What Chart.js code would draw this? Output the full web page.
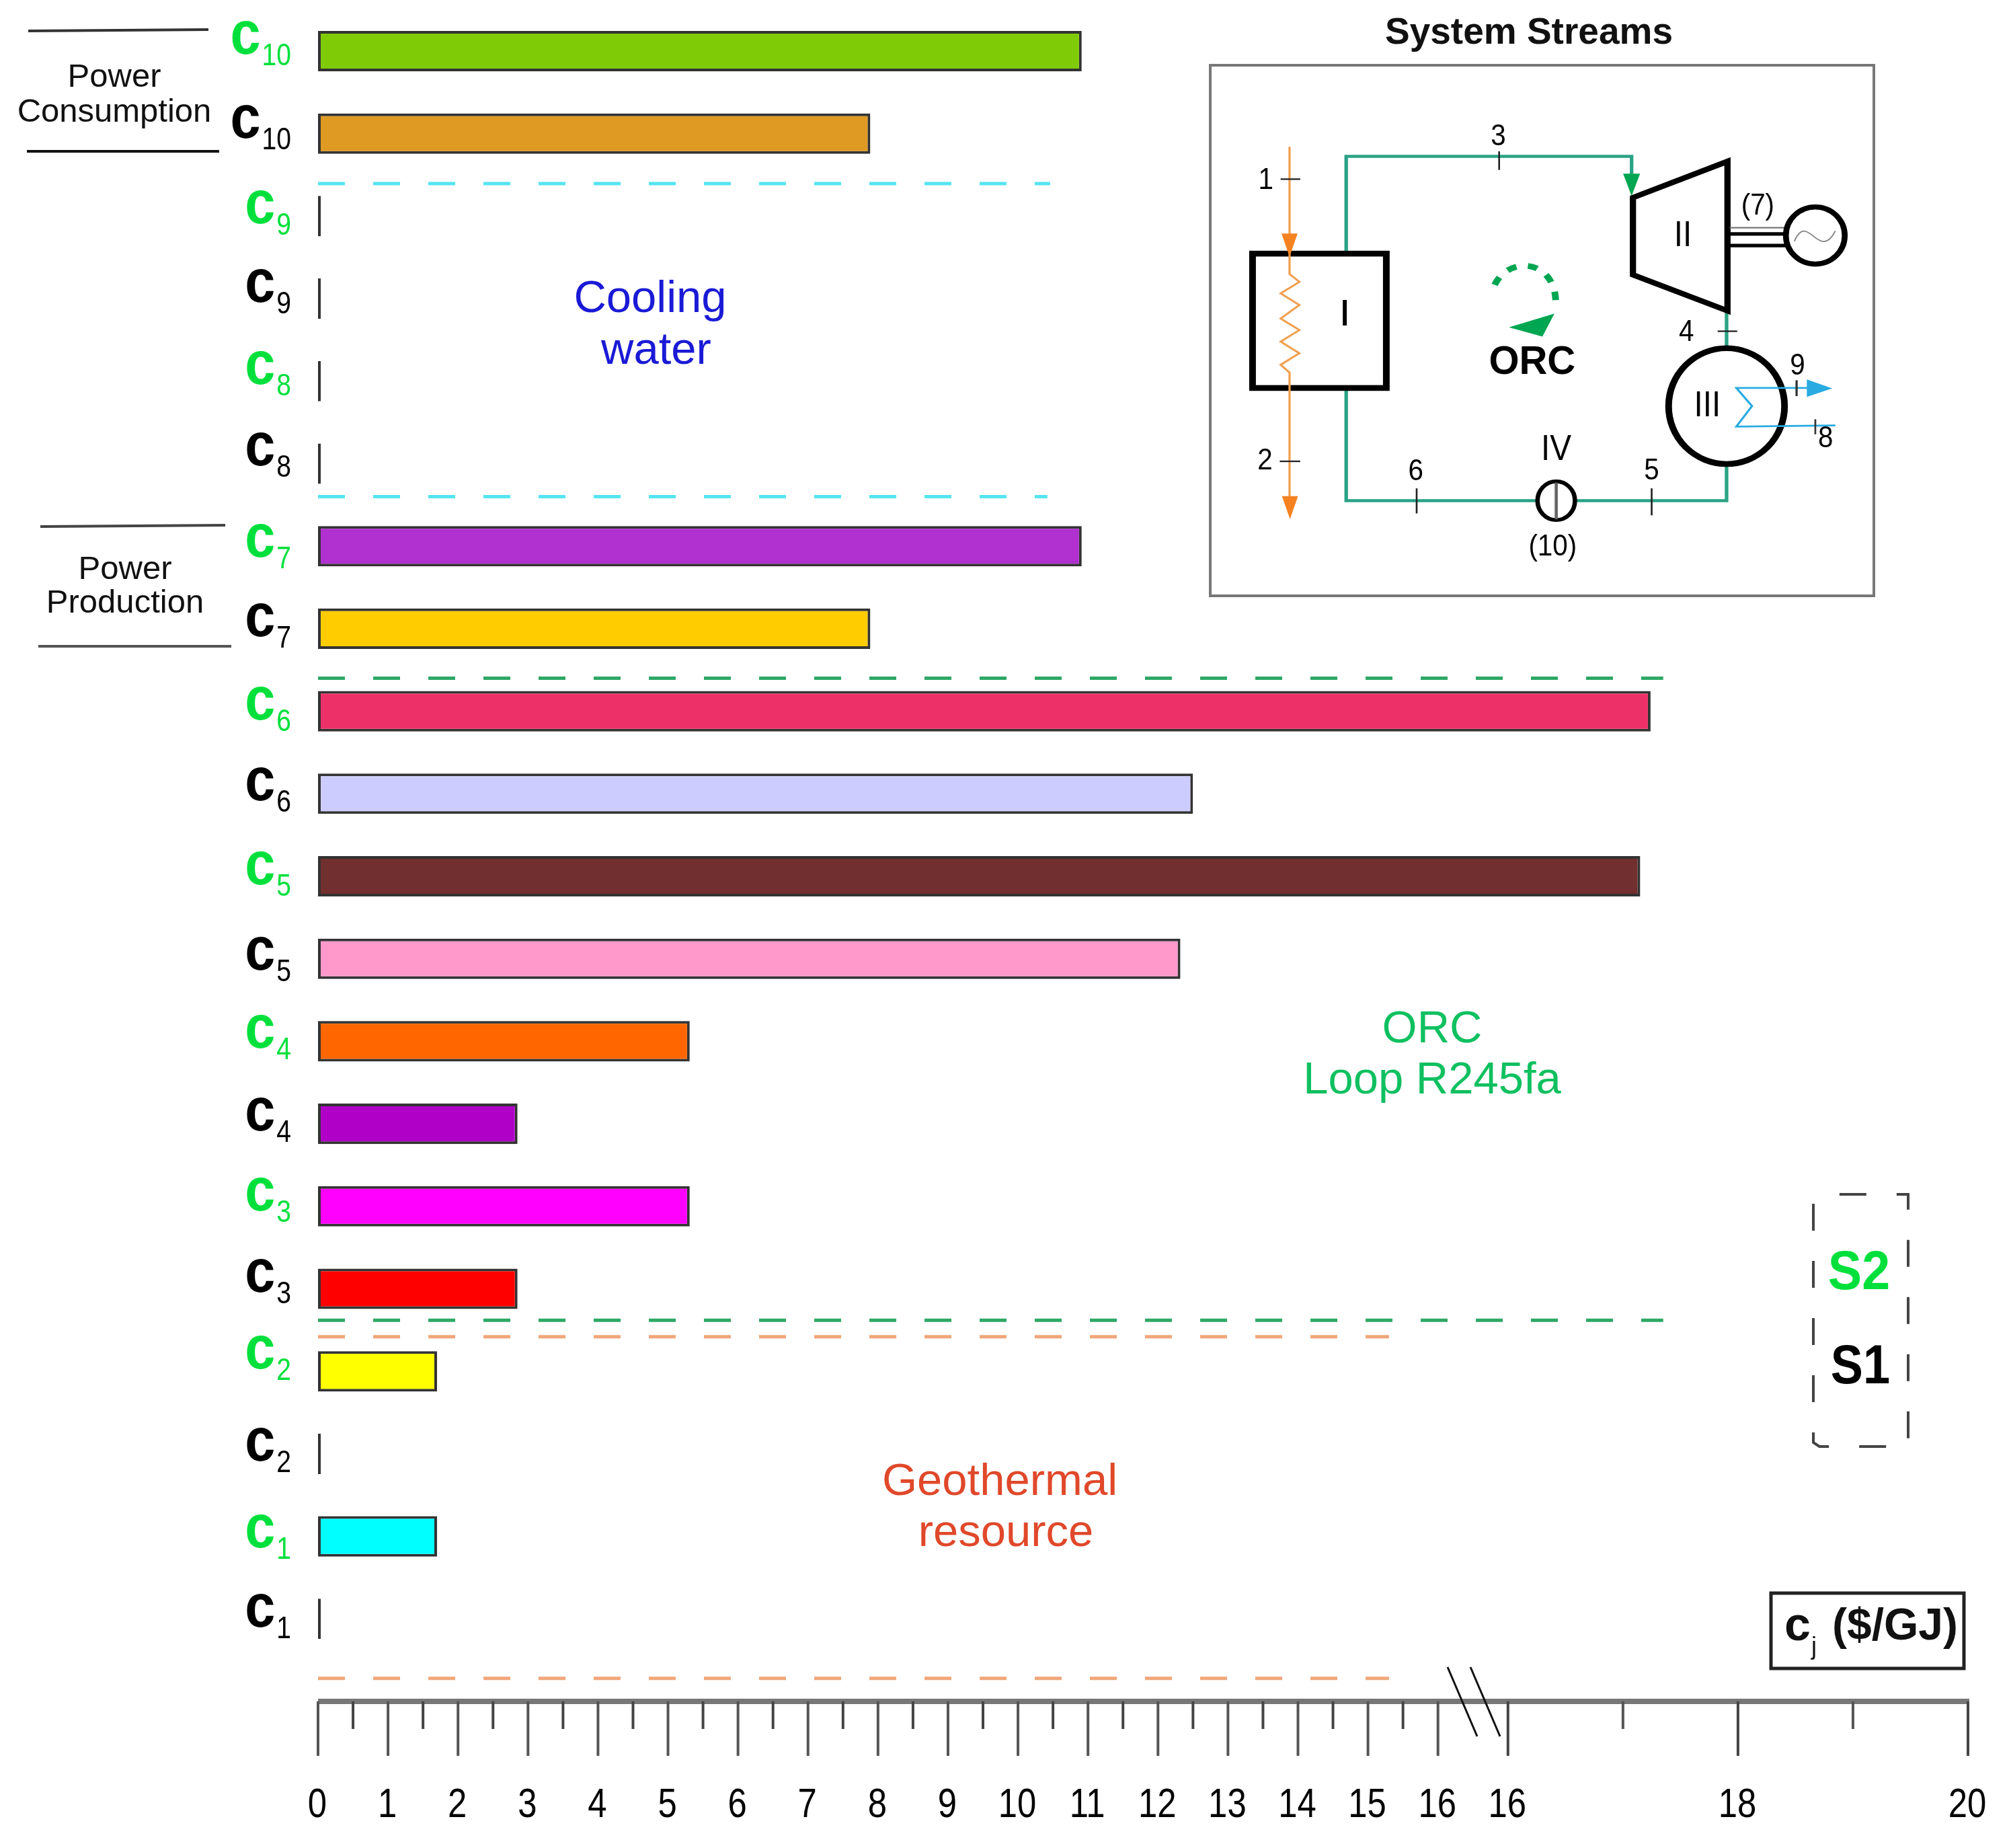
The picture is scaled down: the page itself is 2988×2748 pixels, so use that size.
<!DOCTYPE html>
<html>
<head>
<meta charset="utf-8">
<title>Cost rates</title>
<script src="https://cdn.jsdelivr.net/npm/chart.js@4"></script>
<style>
    html, body { margin: 0; background: #fff; }
    canvas { display: block; }
</style>
</head>
<body>
<canvas id="costChart" width="2988" height="2748"></canvas>
<script>
// streams top to bottom, S2 (green label) then S1 (black label)
const subscripts = ['10','10','9','9','8','8','7','7','6','6','5','5','4','4','3','3','2','2','1','1'];
const costValues = [10.91, 7.89, 0, 0, 0, 0, 10.91, 7.89, 17.24, 12.5, 17.15, 12.32, 5.31, 2.85, 5.31, 2.85, 1.7, 0, 1.7, 0];
const barColors = ['#7fcc06','#de9a22','#000','#000','#000','#000','#b030d0','#ffcc00','#ee3068','#ccccff',
    '#722f2f','#ff99cc','#ff6600','#b000c8','#ff00ff','#ff0000','#ffff00','#000','#00ffff','#000'];
const scenarioColors = ['#00e03c', '#000000'];

// x axis, it breaks after 16 and goes on at a larger scale
const lowerTicks = [0,0.5,1,1.5,2,2.5,3,3.5,4,4.5,5,5.5,6,6.5,7,7.5,8,8.5,9,9.5,10,10.5,11,11.5,12,12.5,13,13.5,14,14.5,15,15.5,16];
const upperTicks = [16,17,18,19,20];
const upperLabelled = [16,18,20];

// section separators: row position on y, end value on x
const separators = [
    { row: 1.605, end: 10.46, color: '#55e5f0' },
    { row: 5.40, end: 10.42, color: '#55e5f0' },
    { row: 7.60, end: 17.35, color: '#2ea866' },
    { row: 15.38, end: 17.35, color: '#2ea866' },
    { row: 15.58, end: 15.3, color: '#f0a67a' },
    { row: 19.72, end: 15.3, color: '#f0a67a' }
];

const FONT = '"Liberation Sans", Arial, sans-serif';

const BREAK_GAP = 1;
const UPPER_STRETCH = 1.643;
const AXIS_SPAN = 16 + BREAK_GAP + 4 * UPPER_STRETCH;

function upperPos(v) {
    return 16 + BREAK_GAP + (v - 16) * UPPER_STRETCH;
}

class BrokenAxis extends Chart.LinearScale {
    static id = 'brokenAxis';
    static defaults = Chart.LinearScale.defaults;

    buildTicks() {
        const low = lowerTicks.map(v => ({ value: v, pos: v, long: Number.isInteger(v) }));
        const up = upperTicks.map(v => ({ value: v, pos: upperPos(v), long: upperLabelled.includes(v) }));
        return low.concat(up);
    }
    getPixelForValue(v) {
        const pos = v <= 16 ? v : upperPos(v);
        return this.getPixelForDecimal(pos / AXIS_SPAN);
    }
    getPixelForTick(i) {
        return this.getPixelForDecimal(this.ticks[i].pos / AXIS_SPAN);
    }
}
Chart.register(BrokenAxis);

// the reference lettering is tall and narrow, squeeze < 1 narrows it
function text(ctx, str, x, y, font, color, align, squeeze) {
    ctx.save();
    ctx.translate(x, y);
    ctx.scale(squeeze || 1, 1);
    ctx.font = font;
    ctx.fillStyle = color || '#000';
    ctx.textAlign = align || 'center';
    ctx.textBaseline = 'middle';
    ctx.fillText(str, 0, 0);
    ctx.restore();
}

function line(ctx, pts, color, width, dash) {
    ctx.beginPath();
    pts.forEach((p, i) => i ? ctx.lineTo(p[0], p[1]) : ctx.moveTo(p[0], p[1]));
    ctx.strokeStyle = color;
    ctx.lineWidth = width;
    ctx.setLineDash(dash || []);
    ctx.stroke();
    ctx.setLineDash([]);
}

function tri(ctx, a, b, c, color) {
    ctx.beginPath();
    ctx.moveTo(a[0], a[1]);
    ctx.lineTo(b[0], b[1]);
    ctx.lineTo(c[0], c[1]);
    ctx.closePath();
    ctx.fillStyle = color;
    ctx.fill();
}

function oval(ctx, x, y, rx, ry, width) {
    ctx.beginPath();
    ctx.ellipse(x, y, rx, ry, 0, 0, Math.PI * 2);
    ctx.fillStyle = '#fff';
    ctx.fill();
    ctx.strokeStyle = '#000';
    ctx.lineWidth = width;
    ctx.stroke();
}

// little cycle diagram in the top right corner
function drawInset(ctx) {
    text(ctx, 'System Streams', 2274, 50, 'bold 55px ' + FONT, '#111');
    ctx.strokeStyle = '#777';
    ctx.lineWidth = 4;
    ctx.strokeRect(1800, 97, 987, 789);

    ctx.save();
    ctx.translate(1780, 0);
    ctx.scale(1 / 1.5077, 1 / 1.742);

    const green = '#2aa385', arrowGreen = '#00a651', orange = '#f0a050', blue = '#29abe2';
    const num = '78px ' + FONT;
    const sq = 0.78;

    line(ctx, [[335, 650], [335, 405], [975, 405], [975, 470]], green, 8);
    line(ctx, [[335, 1005], [335, 1297], [1188, 1297], [1188, 1205]], green, 8);
    line(ctx, [[1188, 810], [1188, 905]], green, 8);
    tri(ctx, [956, 450], [994, 450], [975, 508], arrowGreen);

    // I
    ctx.strokeStyle = '#000';
    ctx.lineWidth = 15;
    ctx.strokeRect(125, 657, 300, 348);
    line(ctx, [[208, 380], [208, 710], [230, 730], [188, 760], [230, 790], [188, 825], [230, 855], [188, 885], [230, 915], [188, 945], [208, 965], [208, 1300]], orange, 5);
    tri(ctx, [190, 605], [226, 605], [208, 665], '#f58220');
    tri(ctx, [191, 1285], [227, 1285], [209, 1345], '#f58220');
    text(ctx, 'I', 332, 816, '96px ' + FONT);
    line(ctx, [[188, 464], [232, 464]], '#222', 4);
    line(ctx, [[186, 1195], [232, 1195]], '#222', 4);
    text(ctx, '1', 155, 468, num, '#000', 'center', sq);
    text(ctx, '2', 153, 1195, num, '#000', 'center', sq);

    // II
    ctx.beginPath();
    ctx.moveTo(978, 512);
    ctx.lineTo(1190, 418);
    ctx.lineTo(1190, 805);
    ctx.lineTo(978, 712);
    ctx.closePath();
    ctx.lineWidth = 14;
    ctx.strokeStyle = '#000';
    ctx.stroke();
    text(ctx, 'II', 1090, 612, '92px ' + FONT, '#000', 'center', sq);

    line(ctx, [[1195, 590], [1320, 590]], '#777', 4);
    line(ctx, [[1195, 606], [1320, 606]], '#000', 9);
    line(ctx, [[1195, 636], [1320, 636]], '#000', 9);
    oval(ctx, 1387, 610, 66, 74, 13);
    ctx.beginPath();
    ctx.moveTo(1340, 625);
    ctx.bezierCurveTo(1370, 545, 1395, 680, 1432, 598);
    ctx.strokeStyle = '#888';
    ctx.lineWidth = 3;
    ctx.stroke();
    text(ctx, '(7)', 1258, 535, num, '#000', 'center', sq);

    // III
    oval(ctx, 1188, 1052, 130, 150, 15);
    text(ctx, 'III', 1145, 1053, '92px ' + FONT, '#000', 'center', sq);
    line(ctx, [[1400, 1005], [1210, 1005], [1245, 1052], [1210, 1105], [1432, 1102]], blue, 5);
    tri(ctx, [1368, 983], [1368, 1028], [1425, 1006], blue);
    line(ctx, [[1345, 985], [1345, 1026]], '#333', 5);
    line(ctx, [[1387, 1086], [1387, 1125]], '#333', 4);
    text(ctx, '9', 1347, 948, num, '#000', 'center', sq);
    text(ctx, '8', 1410, 1137, num, '#000', 'center', sq);
    line(ctx, [[1168, 858], [1212, 858]], '#222', 4);
    text(ctx, '4', 1098, 862, num, '#000', 'center', sq);

    // IV
    oval(ctx, 806, 1297, 42, 50, 10);
    line(ctx, [[806, 1250], [806, 1345]], '#666', 7);
    text(ctx, 'IV', 806, 1166, '92px ' + FONT, '#000', 'center', sq);
    text(ctx, '(10)', 798, 1418, num, '#000', 'center', sq);

    line(ctx, [[678, 392], [678, 440]], '#222', 4);
    line(ctx, [[493, 1265], [493, 1330]], '#222', 4);
    line(ctx, [[1020, 1265], [1020, 1335]], '#222', 4);
    text(ctx, '3', 676, 355, num, '#000', 'center', sq);
    text(ctx, '6', 491, 1222, num, '#000', 'center', sq);
    text(ctx, '5', 1020, 1220, num, '#000', 'center', sq);

    // direction of the loop
    ctx.beginPath();
    ctx.moveTo(668, 738);
    ctx.bezierCurveTo(700, 660, 810, 670, 805, 795);
    ctx.strokeStyle = arrowGreen;
    ctx.lineWidth = 15;
    ctx.setLineDash([22, 26]);
    ctx.stroke();
    ctx.setLineDash([]);
    tri(ctx, [700, 848], [802, 812], [775, 872], arrowGreen);
    text(ctx, 'ORC', 752, 940, 'bold 104px ' + FONT, '#000', 'center', 0.84);

    ctx.restore();
}

const annotations = {
    id: 'annotations',
    afterDraw(chart) {
        const ctx = chart.ctx;
        const x = chart.scales.x, y = chart.scales.y;
        ctx.save();

        // axis line, tick marks and their numbers
        line(ctx, [[x.left, y.bottom], [x.right + 2, y.bottom]], '#777', 8);
        x.ticks.forEach((t, i) => {
            const px = x.getPixelForTick(i);
            line(ctx, [[px, y.bottom], [px, y.bottom + (t.long ? 81 : 41)]], i % 2 ? '#444' : '#555', 4);
            if (t.long) {
                text(ctx, String(t.value), px - 1, 2685, '62px ' + FONT, '#000', 'center', 0.82);
            }
        });
        line(ctx, [[2153, 2479], [2197, 2582]], '#111', 3);
        line(ctx, [[2187, 2479], [2231, 2582]], '#111', 3);

        separators.forEach(s => {
            const py = y.getPixelForValue(s.row);
            line(ctx, [[x.left, py], [x.getPixelForValue(s.end), py]], s.color, 5, [40, 42]);
        });

        // row labels, c with its subscript
        const baseShift = [4, 6, 11, 5, 4, 2, 16, 11, 12, 10, 12, 16, 10, 10, 6, 4, -4, 10, 16, 12];
        subscripts.forEach((sub, i) => {
            const base = y.getPixelForValue(i) + baseShift[i];
            ctx.save();
            ctx.translate(433, base);
            ctx.textBaseline = 'alphabetic';
            ctx.textAlign = 'right';
            ctx.fillStyle = scenarioColors[i % 2];
            ctx.font = '46px ' + FONT;
            const w = ctx.measureText(sub).width * 0.85;
            ctx.save();
            ctx.scale(0.85, 1);
            ctx.fillText(sub, 0, 17);
            ctx.restore();
            ctx.scale(0.9, 1);
            ctx.font = 'bold 90px ' + FONT;
            ctx.fillText('c', (-w - 2) / 0.9, 0);
            ctx.restore();
        });

        // left captions
        line(ctx, [[42, 46], [310, 44]], '#333', 4);
        line(ctx, [[40, 225], [326, 225]], '#111', 4);
        line(ctx, [[60, 783], [335, 781]], '#444', 4);
        line(ctx, [[57, 961], [344, 961]], '#555', 4);
        text(ctx, 'Power', 170, 115, '49px ' + FONT, '#111');
        text(ctx, 'Consumption', 170, 167, '49px ' + FONT, '#111');
        text(ctx, 'Power', 186, 847, '49px ' + FONT, '#111');
        text(ctx, 'Production', 186, 897, '49px ' + FONT, '#111');

        // section names
        text(ctx, 'Cooling', 967, 446, '67px ' + FONT, '#1a1ad6');
        text(ctx, 'water', 976, 523, '67px ' + FONT, '#1a1ad6');
        text(ctx, 'ORC', 2130, 1532, '67px ' + FONT, '#10c060');
        text(ctx, 'Loop R245fa', 2130, 1608, '67px ' + FONT, '#10c060');
        text(ctx, 'Geothermal', 1487, 2205, '67px ' + FONT, '#e0482a');
        text(ctx, 'resource', 1496, 2281, '67px ' + FONT, '#e0482a');

        // S2 / S1 key
        line(ctx, [[2697, 1790], [2697, 2145], [2706, 2151], [2838, 2151], [2838, 1776], [2697, 1776]], '#444', 4, [40, 45]);
        text(ctx, 'S2', 2765, 1894, 'bold 82px ' + FONT, scenarioColors[0], 'center', 0.92);
        text(ctx, 'S1', 2767, 2034, 'bold 82px ' + FONT, scenarioColors[1], 'center', 0.88);

        // unit box
        ctx.strokeStyle = '#222';
        ctx.lineWidth = 5;
        ctx.strokeRect(2634, 2369, 287, 112);
        text(ctx, 'c', 2654, 2420, 'bold 70px ' + FONT, '#111', 'left');
        text(ctx, 'j', 2694, 2450, '36px ' + FONT, '#111', 'left');
        text(ctx, '($/GJ)', 2725, 2420, 'bold 66px ' + FONT, '#111', 'left');

        drawInset(ctx);
        ctx.restore();
    }
};

new Chart(document.getElementById('costChart').getContext('2d'), {
    type: 'bar',
    data: {
        // the empty last row is where the x axis sits
        labels: subscripts.map(s => 'c' + s).concat(['']),
        datasets: [{
            label: 'cj ($/GJ)',
            data: costValues,
            backgroundColor: barColors,
            borderColor: '#333',
            borderWidth: 4,
            borderSkipped: false,
            minBarLength: 4,
            barPercentage: 0.49,
            categoryPercentage: 1,
            clip: false
        }]
    },
    options: {
        indexAxis: 'y',
        responsive: false,
        animation: false,
        layout: { padding: { top: 76, right: 61, left: 0, bottom: 0 } },
        plugins: { legend: { display: false }, tooltip: { enabled: false }, title: { display: false } },
        scales: {
            y: {
                offset: false,
                grid: { display: false },
                border: { display: false },
                ticks: { display: false },
                afterFit: s => { s.width = 473; }
            },
            x: {
                type: 'brokenAxis',
                min: 0,
                max: 20,
                grid: { display: false, drawTicks: false },
                border: { display: false },
                ticks: { display: false },
                afterFit: s => { s.height = 218; s.paddingLeft = 0; s.paddingRight = 0; }
            }
        }
    },
    plugins: [annotations]
});
</script>
</body>
</html>
